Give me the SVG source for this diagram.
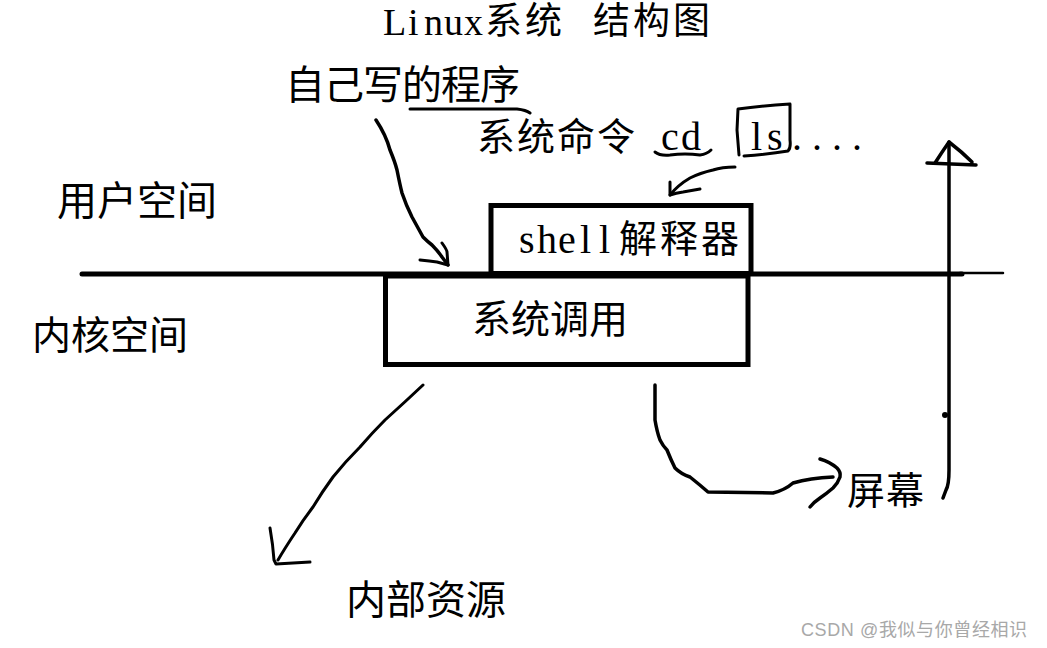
<svg xmlns="http://www.w3.org/2000/svg" width="1047" height="648" viewBox="0 0 1047 648">
<style>
.cj{font-family:"Liberation Serif","Noto Sans CJK SC",serif;fill:#000}
.la{font-family:"Liberation Serif",serif;fill:#000}
.ln{fill:none;stroke:#000;stroke-linecap:round;stroke-linejoin:round}
.box{fill:#fff;stroke:#000;stroke-width:5}
.wm{font-family:"Liberation Sans","Noto Sans CJK SC",sans-serif;font-size:18px;fill:#a8a8a8}
</style>
<rect width="1047" height="648" fill="#fff"/>
<g id="title">
<text class="la" font-size="38" x="383 408 424 444 464" y="35">Linux</text>
<text class="cj" font-size="37" letter-spacing="3" x="485" y="34">系统</text>
<text class="cj" font-size="37" letter-spacing="3" x="593" y="34">结构图</text>
</g>
<g id="own-program">
<text class="cj" font-size="40" letter-spacing="-1" x="285" y="99">自己写的程序</text>
<path class="ln" stroke-width="3" d="M410,109 L517,109 Q526,110 530,113"/>
</g>
<g id="sys-cmd">
<text class="cj" font-size="38" letter-spacing="2" x="477" y="150">系统命令</text>
<text class="la" font-size="40" x="661 681" y="150">cd</text>
<text class="la" font-size="40" x="751 767" y="150">ls</text>
<text class="la" font-size="40" x="792 812 832 852" y="150">....</text>
<path class="ln" stroke-width="3" d="M655,152 Q660,156 670,155 Q685,153 700,155 Q707,154 711,150"/>
<path class="ln" stroke-width="3" d="M739,155 L737,130 L738,109 Q760,106 790,104 L790,140 Q791,148 788,151 Q770,154 744,156"/>
</g>
<g id="user-space"><text class="cj" font-size="40" x="57" y="215">用户空间</text></g>
<g id="kernel-space"><text class="cj" font-size="39" x="32" y="349">内核空间</text></g>
<g id="shell">
<rect class="box" x="491" y="205.5" width="260" height="68"/>
<text class="la" font-size="40" x="519 537 558 580 599" y="253">shell</text>
<text class="cj" font-size="38" letter-spacing="3" x="619" y="252">解释器</text>
</g>
<g id="syscall">
<rect class="box" x="385.5" y="276" width="362.5" height="88.5"/>
<text class="cj" font-size="39" x="472" y="333">系统调用</text>
</g>
<g id="internal"><text class="cj" font-size="40" x="346" y="614">内部资源</text></g>
<g id="screen"><text class="cj" font-size="38" letter-spacing="1" x="847" y="504">屏幕</text></g>
<g id="watermark"><text class="wm" letter-spacing="0.6" x="801" y="636">CSDN @我似与你曾经相识</text></g>
<g id="connectors">
<path class="ln" stroke-width="5" d="M82,274 L962,274"/>
<path class="ln" stroke-width="2.5" d="M960,273 L1003,273"/>
<path class="ln" stroke-width="3.5" d="M376,120 Q386,135 390,150 Q395,162 397,170 Q400,185 402,193 Q406,205 412,217 Q418,228 423,237 Q428,242 432,245 Q438,251 442,257 L448,265"/>
<path class="ln" stroke-width="3" d="M420,260 Q430,261 437,262 L448,265 M442,243 Q447,250 447,252 L448,265"/>
<path class="ln" stroke-width="3" d="M735,167 Q722,167 713,170 Q700,173 690,178 Q678,185 670,195"/>
<path class="ln" stroke-width="3" d="M670,182 L670,195 Q676,193 683,192 L700,189"/>
<path class="ln" stroke-width="3" d="M423,385 Q405,402 385,420 Q372,433 360,447 Q345,462 333,477 Q322,492 313,507 Q303,520 295,533 Q285,548 278,560"/>
<path class="ln" stroke-width="3" d="M270,528 Q273,545 274,560 L276,564 Q293,563 310,562"/>
<path class="ln" stroke-width="3.5" d="M655,385 L655,420 Q657,432 660,440 Q663,446 667,450 Q671,460 675,468 Q681,474 690,477 Q700,485 708,492 L773,493 Q785,490 793,483 Q810,478 833,477"/>
<path class="ln" stroke-width="3.5" d="M820,459 Q830,462 837,468 Q841,472 840,477 Q838,483 833,488 Q826,494 820,498 Q814,502 810,507"/>
<path class="ln" stroke-width="3.5" d="M949,142 L949,470 Q949,485 946,490 L943,498"/>
<path class="ln" stroke-width="3.5" d="M949,142 Q942,152 935,163 M927,163 L976,165 M949,142 Q962,152 972,162"/>
<circle cx="945" cy="415" r="3" fill="#000"/>
</g>
</svg>
